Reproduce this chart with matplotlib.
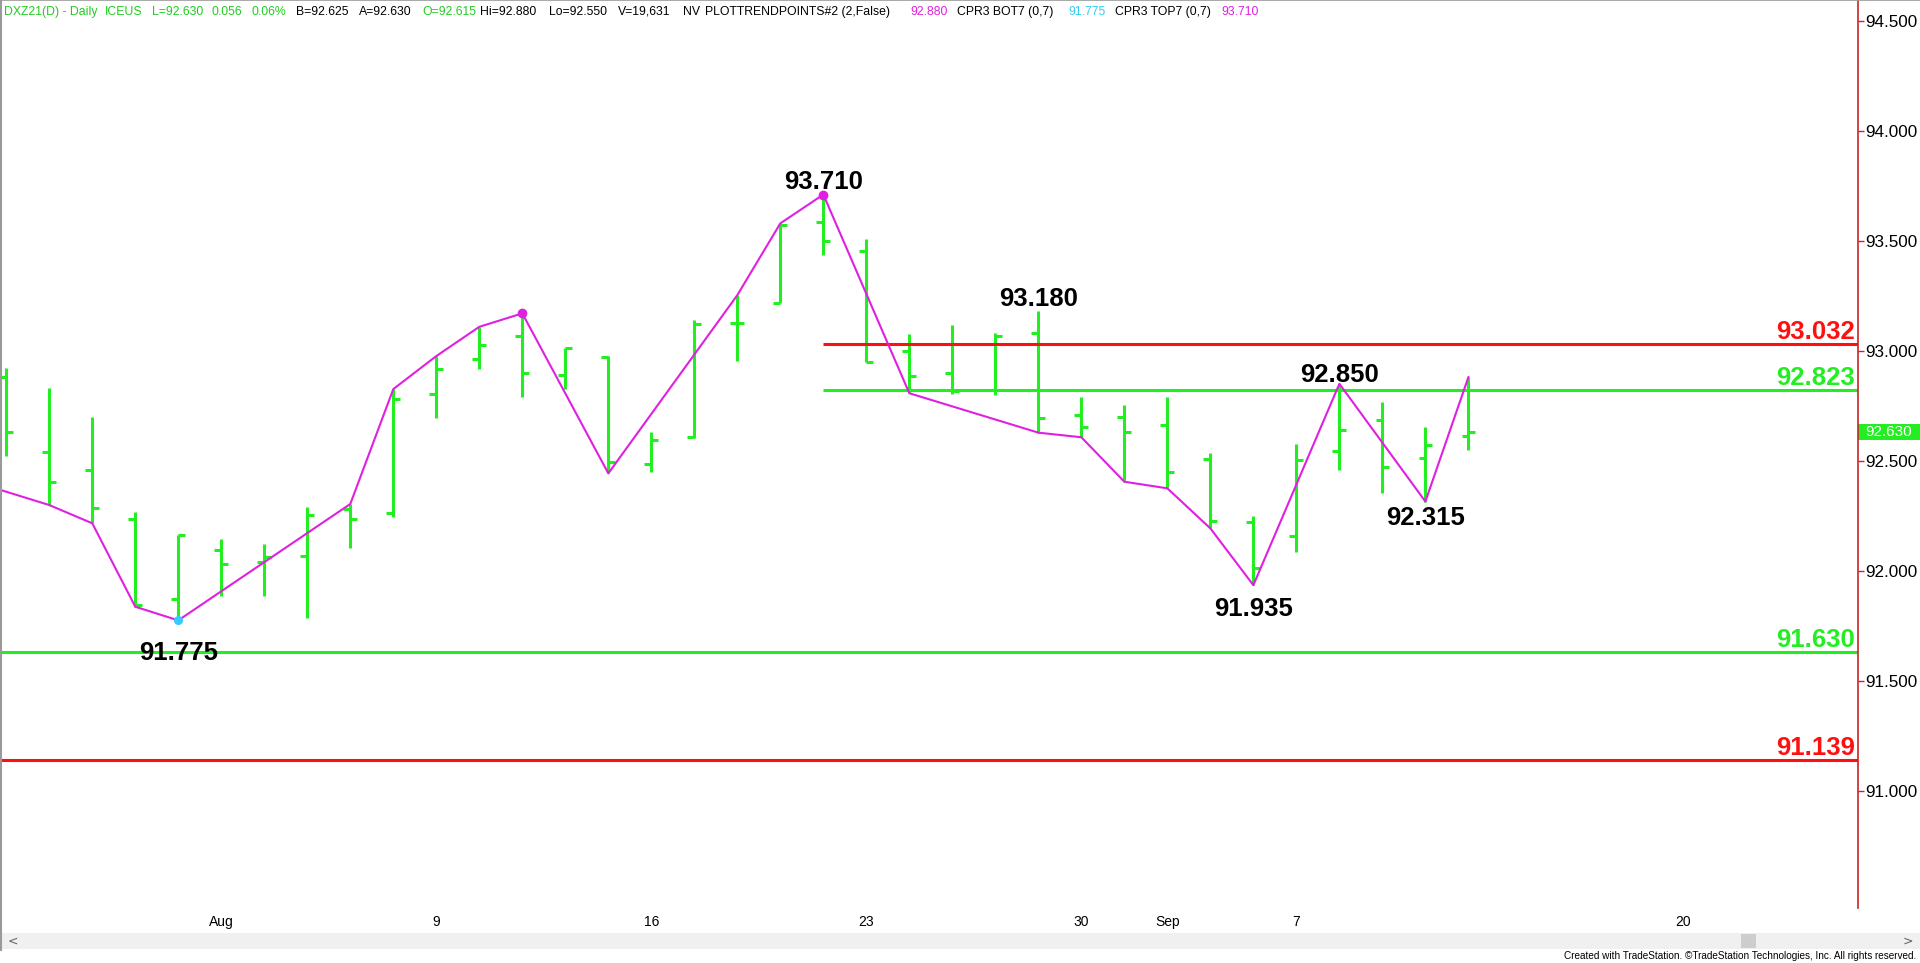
import numpy as np
import matplotlib
matplotlib.use("Agg")
import matplotlib.pyplot as plt
from matplotlib import font_manager
from matplotlib.patches import Rectangle
from matplotlib.transforms import blended_transform_factory

# daily bars, DXZ21, Jul 26 .. Sep 13 (index = trading day)
opens = [92.879, 92.539, 92.458, 92.236, 91.872, 92.093, 92.041, 92.068, 92.280, 92.261,
         92.802, 92.961, 93.067, 92.890, 92.973, 92.485, 92.607, 93.125, 93.218, 93.586,
         93.453, 92.999, 92.900, 92.822, 93.079, 92.708, 92.700, 92.661, 92.508, 92.223,
         92.158, 92.546, 92.685, 92.511, 92.615]
highs = [92.920, 92.829, 92.700, 92.266, 92.163, 92.143, 92.121, 92.291, 92.304, 92.826,
         92.976, 93.109, 93.170, 93.011, 92.977, 92.632, 93.140, 93.253, 93.579, 93.710,
         93.509, 93.075, 93.117, 93.079, 93.180, 92.788, 92.752, 92.791, 92.537, 92.251,
         92.575, 92.850, 92.766, 92.655, 92.880]
lows = [92.522, 92.299, 92.216, 91.837, 91.775, 91.885, 91.885, 91.784, 92.103, 92.246,
        92.693, 92.916, 92.791, 92.825, 92.443, 92.450, 92.605, 92.955, 93.218, 93.435,
        92.947, 92.807, 92.802, 92.799, 92.628, 92.607, 92.405, 92.375, 92.193, 91.935,
        92.087, 92.458, 92.355, 92.315, 92.550]
closes = [92.629, 92.405, 92.284, 91.845, 92.163, 92.031, 92.061, 92.254, 92.235, 92.779,
          92.916, 93.026, 92.898, 93.011, 92.496, 92.594, 93.121, 93.125, 93.570, 93.499,
          92.950, 92.885, 92.817, 93.067, 92.693, 92.652, 92.629, 92.448, 92.225, 92.014,
          92.502, 92.640, 92.470, 92.572, 92.630]

# magenta trend line vertices (first one is a bar left of the window)
trend_idx = [-1, 1, 2, 3, 4, 8, 9, 10, 11, 12, 14, 17, 18, 19, 21, 24, 25, 26, 27, 28, 29, 31, 33, 34]
trend_val = [92.420, 92.299, 92.216, 91.837, 91.775, 92.304, 92.826, 92.976, 93.109, 93.170,
             92.443, 93.253, 93.579, 93.710, 92.807, 92.628, 92.607, 92.405, 92.375, 92.193,
             91.935, 92.850, 92.315, 92.880]

# swing labels
swing_idx = [19, 24, 31, 4, 29, 33]
swing_val = [93.710, 93.180, 92.850, 91.775, 91.935, 92.315]
swing_off = [6, 5, 2, -40, -31, -23]   # baseline offset in pixels

# horizontal levels
level_val = [93.032, 92.823, 91.630, 91.139]
level_col = ["#FF1010", "#22EE22", "#22EE22", "#FF1010"]
level_start = [19, 19, None, None]

date_pos = [5, 10, 15, 20, 25, 27, 30, 39]
date_lab = ["Aug", "9", "16", "23", "30", "Sep", "7", "20"]
yticks = [91.0, 91.5, 92.0, 92.5, 93.0, 93.5, 94.0, 94.5]
last_price = 92.630

header_txt = ["DXZ21(D) - Daily", "ICEUS", "L=92.630", "0.056", "0.06%", "B=92.625", "A=92.630",
              "O=92.615", "Hi=92.880", "Lo=92.550", "V=19,631", "NV", "PLOTTRENDPOINTS#2 (2,False)",
              "92.880", "CPR3 BOT7 (0,7)", "91.775", "CPR3 TOP7 (0,7)", "93.710"]
header_x = [4, 105, 152, 212, 252, 296, 359, 422, 480, 549, 618, 683, 705, 910, 957, 1068, 1115, 1221]
header_col = ["#22CC22"] * 5 + ["black"] * 2 + ["#22CC22"] + ["black"] * 5 + \
             ["#E020E0", "black", "#33CCEE", "black", "#E020E0"]

GREEN = "#22EE22"
MAGENTA = "#E020E0"

names = {f.name for f in font_manager.fontManager.ttflist}
if "Liberation Sans Narrow" in names:
    narrow = "Liberation Sans Narrow"
    hsize, dsize, fsize = 11.5, 11.5, 8.6
else:
    narrow = "Liberation Sans"
    hsize, dsize, fsize = 8.8, 10, 7.2

W, H = 1920, 963
fig = plt.figure(figsize=(W / 100, H / 100), dpi=100)
ax = fig.add_axes([0, 1 - 908 / H, 1858 / W, 908 / H])

idx = np.arange(len(opens))
ax.vlines(idx, lows, highs, color=GREEN, lw=2.2)
ax.hlines(opens, idx - 0.16, idx, color=GREEN, lw=2.2)
ax.hlines(closes, idx, idx + 0.16, color=GREEN, lw=2.2)

ax.plot(trend_idx, trend_val, color=MAGENTA, lw=1.5, zorder=3)
ax.plot([12, 19], [highs[12], highs[19]], "o", color=MAGENTA, ms=6, zorder=4)
ax.plot([4], [lows[4]], "o", color="#33CCFF", ms=5.5, zorder=4)

x0, x1 = -0.146, 43.06
for v, c, s in zip(level_val, level_col, level_start):
    ax.hlines(v, x0 if s is None else s, x1, color=c, lw=2.2, zorder=2)

for i, v, off in zip(swing_idx, swing_val, swing_off):
    ax.annotate(f"{v:.3f}", (i, v), xytext=(0, off), textcoords="offset pixels",
                ha="center", va="baseline", fontsize=18.5, fontweight="bold",
                family="Liberation Sans", color="black")

bt = blended_transform_factory(ax.transAxes, ax.transData)
for v, c in zip(level_val, level_col):
    ax.annotate(f"{v:.3f}", (0.9984, v), xycoords=bt, xytext=(0, 5), textcoords="offset pixels",
                ha="right", va="baseline", fontsize=18.5, fontweight="bold",
                family="Liberation Sans", color=c)

ax.set_xlim(x0, x1)
ax.set_ylim(90.468, 94.594)

ax.yaxis.tick_right()
ax.set_yticks(yticks)
ax.set_yticklabels([f"{t:.3f}" for t in yticks], family="Liberation Sans", fontsize=12.3)
ax.tick_params(axis="y", direction="out", length=4, width=1, color="#CC2222", pad=1)
ax.set_xticks(date_pos)
ax.set_xticklabels(date_lab, family=narrow, fontsize=dsize)
ax.tick_params(axis="x", length=0, pad=5)

for s in ["top", "bottom", "left"]:
    ax.spines[s].set_visible(False)
ax.spines["right"].set_color("#CC2222")
ax.spines["right"].set_linewidth(1.2)

# last price box on the axis
ax.add_patch(Rectangle((1.0, last_price - 0.037), 62 / 1858, 0.074, transform=bt,
                       facecolor=GREEN, edgecolor="none", clip_on=False))
ax.text(1.0 + 31 / 1858, last_price, f"{last_price:.3f}", transform=bt, ha="center", va="center",
        color="white", fontsize=11, family="Liberation Sans", clip_on=False)

# window chrome
fig.add_artist(plt.Line2D([1 / W, 1 / W], [1 - 950 / H, 1], color="#9A9A9A", lw=1.5))
fig.add_artist(plt.Line2D([0, 1], [1 - 0.5 / H, 1 - 0.5 / H], color="#9A9A9A", lw=1.2))
fig.add_artist(Rectangle((2 / W, 1 - 949 / H), 1 - 2 / W, 16 / H, transform=fig.transFigure,
                         facecolor="#F0F0F0", edgecolor="none"))
fig.add_artist(Rectangle((1741 / W, 1 - 948 / H), 15 / W, 14 / H, transform=fig.transFigure,
                         facecolor="#CDCDCD", edgecolor="none"))
fig.text(8 / W, 1 - 941 / H, "<", fontsize=9, color="#606060", va="center")
fig.text(1903 / W, 1 - 941 / H, ">", fontsize=9, color="#606060", va="center")
fig.text(1916 / W, 1 - 956 / H, "Created with TradeStation. \u00a9TradeStation Technologies, Inc. All rights reserved.",
         ha="right", va="center", fontsize=fsize, family=narrow, color="black")

for t, x, c in zip(header_txt, header_x, header_col):
    fig.text(x / W, 1 - 12 / H, t, ha="left", va="center", fontsize=hsize, family=narrow, color=c)

fig.savefig("out.png", dpi=100, facecolor="white")
